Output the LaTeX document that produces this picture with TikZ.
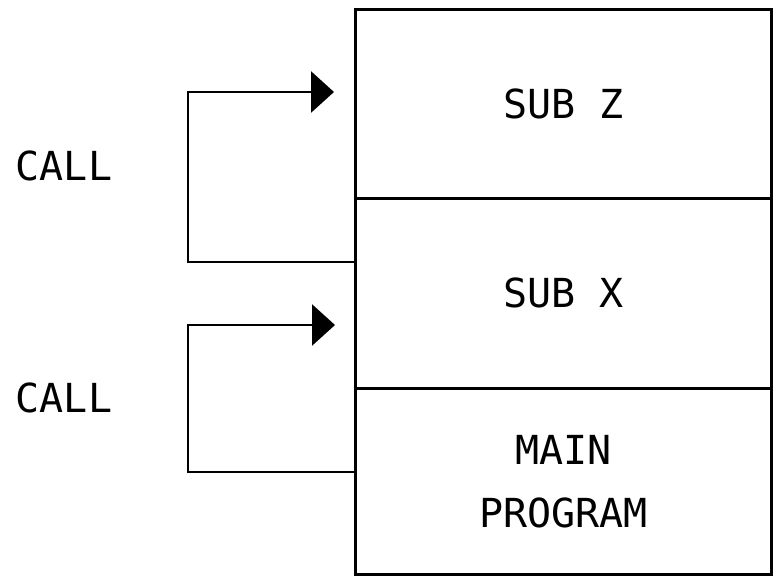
\documentclass[tikz,border=0pt]{standalone}
\usepackage{fontspec}
\setmainfont{DejaVu Sans Mono}
\usetikzlibrary{arrows.meta}
\begin{document}
\begin{tikzpicture}[x=1pt,y=-1pt,
  part/.style={draw,line width=2.8pt,minimum width=416pt,inner sep=0pt,anchor=north west,align=center,font=\fontsize{40}{63}\selectfont},
  lbl/.style={font=\fontsize{40}{50}\selectfont,inner sep=0pt},
  conn/.style={line width=2.8pt,-{Triangle[length=23pt,width=41pt]}}]
\useasboundingbox (0,0) rectangle (777,582);
\node[part,minimum height=189pt] (subz) at (354,8) {SUB Z};
\node[part,minimum height=190pt] (subx) at (354,197) {SUB X};
\node[part,minimum height=186pt] (main) at (354,387) {MAIN\\PROGRAM};
\node[lbl] (call1) at (64,166) {CALL};
\node[lbl] (call2) at (64,398) {CALL};
\coordinate (t1) at (334,92);
\coordinate (t2) at (335,325);
\draw[conn] (subx.west |- 0,262) -| (188,92) -- (t1);
\draw[conn] (main.west |- 0,472) -| (188,325) -- (t2);
\end{tikzpicture}
\end{document}
